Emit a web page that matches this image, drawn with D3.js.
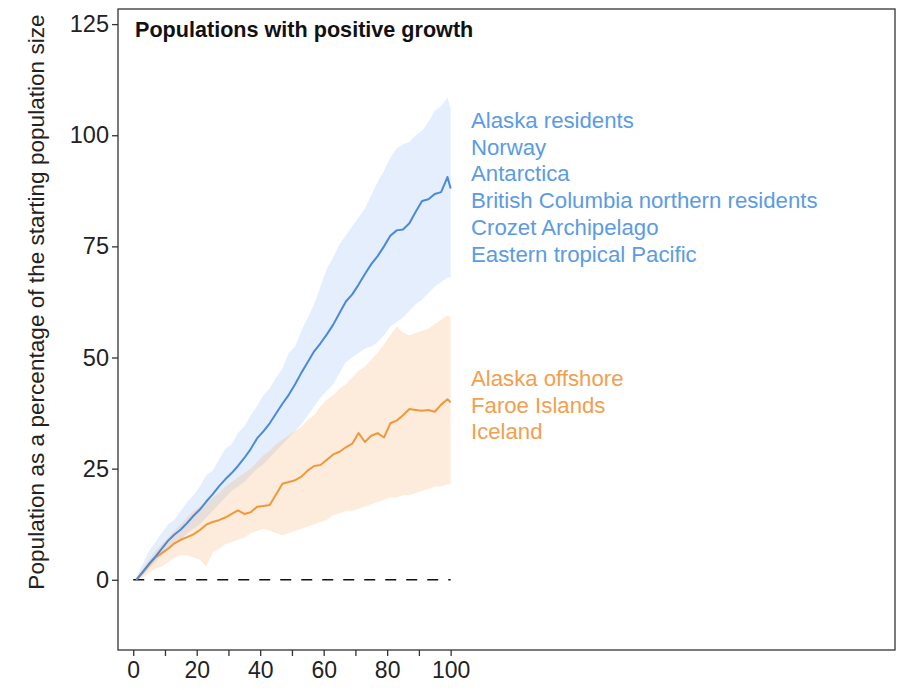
<!DOCTYPE html>
<html><head><meta charset="utf-8">
<script src="https://cdn.jsdelivr.net/npm/d3@7"></script>
<style>body{margin:0;background:#fff;}svg{display:block;font-family:"Liberation Sans",Arial,sans-serif;}</style>
</head><body><svg id="c" width="902" height="690"></svg>
<script>
const years = [1,3,5,7,9,11,13,15,17,19,21,23,25,27,29,31,33,35,37,39,41,43,45,47,49,51,53,55,57,59,61,63,65,67,69,71,73,75,77,79,81,83,85,87,89,91,93,95,97,99,100];
const blueMean = [0,1.8,3.6,5.2,7,8.8,10.2,11.3,12.8,14.4,15.8,17.6,19.2,21,22.6,24,25.6,27.4,29.4,31.8,33.4,35.2,37.4,39.6,41.6,44,46.6,49,51.4,53.2,55.2,57.4,60,62.6,64.2,66.4,68.8,71,72.8,75,77.4,78.6,78.8,80.2,82.8,85.2,85.6,86.8,87.2,90.6,88];
const blueUpper = [0.5,3.5,6.5,8.5,10.5,12.5,13.5,15.5,17.5,19,21,23.5,24.5,27,29.5,30.5,33,34.5,37,39,41.5,43,45.5,47.5,51,52.5,56,59,62,66,70,72.5,75.5,77.5,79.5,81.5,83.5,86.5,89.5,92,95,97,98,98.5,100,101,103,105.5,106.5,108.5,106];
const blueLower = [0,1,2.5,4,5.5,7,8,9,10.5,11.5,12.5,14,15.5,17,18.5,20,21,22,23.5,25,26,27.5,29,30.5,32,33.5,35,37,39,41,42.5,44,46.5,49,50,51,52,52.5,53.5,55,57,58,59,60.5,62,63,64.5,66,67,68,68];
const orangeMean = [0,1.6,3.4,5,6,7,8.2,9,9.6,10.2,11.2,12.4,13,13.4,14,14.8,15.6,14.8,15.2,16.4,16.6,16.8,19.2,21.6,22,22.4,23.2,24.6,25.6,25.8,27,28.2,28.8,29.8,30.6,33,31,32.4,33,32,35.2,35.8,37,38.4,38.2,38,38.2,37.8,39.4,40.6,39.9];
const orangeUpper = [0.5,2.5,4.5,6.5,8,9.5,11,12.5,14,15.5,16.5,17.5,18.5,19.5,21,22,23,24,25,26.5,28,29,30.5,31.5,32.5,33.5,34.5,36,37,39,40.5,41.5,43,44,45.5,47,48,49.5,51,53,55,57,55.5,55,55.5,56,56.5,57.5,58.5,59.5,59];
const orangeLower = [0,0.5,1.5,2.5,3,4,5,5.5,5.5,5,4.5,3,6,7,8,8.5,9,9.5,10.5,11,11.5,11,10.5,10,10.5,11,11.5,12,12.5,13,13.5,14.5,15,15.5,15.5,16,16.5,17,17.5,18,18.5,18.5,19,19,19.5,20,20.5,21,21,21.5,21.5];
const blueLabels = ["Alaska residents","Norway","Antarctica","British Columbia northern residents","Crozet Archipelago","Eastern tropical Pacific"];
const orangeLabels = ["Alaska offshore","Faroe Islands","Iceland"];
const xTicks = [0,10,20,30,40,50,60,70,80,90,100];
const xTickLabels = [0,20,40,60,80,100];
const yTicks = [0,25,50,75,100,125];
const titleText = "Populations with positive growth";
const yTitle = "Population as a percentage  of the starting population size";

const svg = d3.select("#c");
const L = 118, R = 895, T = 9, B = 650;
const x = d3.scaleLinear().domain([-4.8, 240]).range([L, R]);
const y = d3.scaleLinear().domain([-15.8, 128.4]).range([B, T]);

function band(up, lo, fill) {
  const a = d3.area().x((d,i)=>x(years[i])).y0((d,i)=>y(lo[i])).y1((d,i)=>y(up[i]));
  svg.append("path").attr("d", a(years)).attr("fill", fill);
}
band(blueUpper, blueLower, "rgba(120,170,240,0.2)");
band(orangeUpper, orangeLower, "rgba(245,155,80,0.2)");

svg.append("line").attr("x1", x(0)).attr("x2", x(100)).attr("y1", y(0)).attr("y2", y(0))
  .attr("stroke", "#111").attr("stroke-width", 1.4).attr("stroke-dasharray", "11,10");

function line(vals, col) {
  const l = d3.line().x((d,i)=>x(years[i])).y(d=>y(d));
  svg.append("path").attr("d", l(vals)).attr("fill","none").attr("stroke", col).attr("stroke-width", 2).attr("stroke-linejoin","round");
}
line(orangeMean, "#f0993a");
line(blueMean, "#4a8ad8");

// frame
svg.append("rect").attr("x", L).attr("y", T).attr("width", R-L).attr("height", B-T)
  .attr("fill","none").attr("stroke","#333").attr("stroke-width",1.3);

// x axis
const xa = svg.append("g").attr("transform", `translate(0,${B})`)
  .call(d3.axisBottom(x).tickValues(xTicks).tickSize(6).tickPadding(6)
    .tickFormat(d => xTickLabels.includes(d) ? d : ""));
xa.select(".domain").remove();
xa.selectAll("text").style("font-size", "23px").style("font-family", "'Liberation Sans', Arial, sans-serif").attr("fill", "#222");
xa.selectAll("line").attr("stroke", "#333").attr("stroke-width", 1.3);

const ya = svg.append("g").attr("transform", `translate(${L},0)`)
  .call(d3.axisLeft(y).tickValues(yTicks).tickSize(6).tickPadding(3));
ya.select(".domain").remove();
ya.selectAll("text").style("font-size", "23.5px").style("font-family", "'Liberation Sans', Arial, sans-serif").attr("fill", "#222");
ya.selectAll("line").attr("stroke", "#333").attr("stroke-width", 1.3);

svg.append("text").attr("x", 135).attr("y", 37).attr("font-size", 21.6).attr("font-weight", "bold")
  .attr("fill", "#111").text(titleText);

svg.append("text").attr("transform", `translate(44,302) rotate(-90)`).attr("text-anchor","middle")
  .attr("font-size", 22.6).attr("fill", "#222").text(yTitle);

svg.selectAll("text.bl").data(blueLabels).enter().append("text").attr("class","bl")
  .attr("x", 471).attr("y", (d,i)=>128 + i*26.7).attr("font-size", 22.2).attr("fill", "#5b9be4").text(d=>d);
svg.selectAll("text.ol").data(orangeLabels).enter().append("text").attr("class","ol")
  .attr("x", 471).attr("y", (d,i)=>386 + i*26.7).attr("font-size", 22.2).attr("fill", "#f2a050").text(d=>d);
</script></body></html>
